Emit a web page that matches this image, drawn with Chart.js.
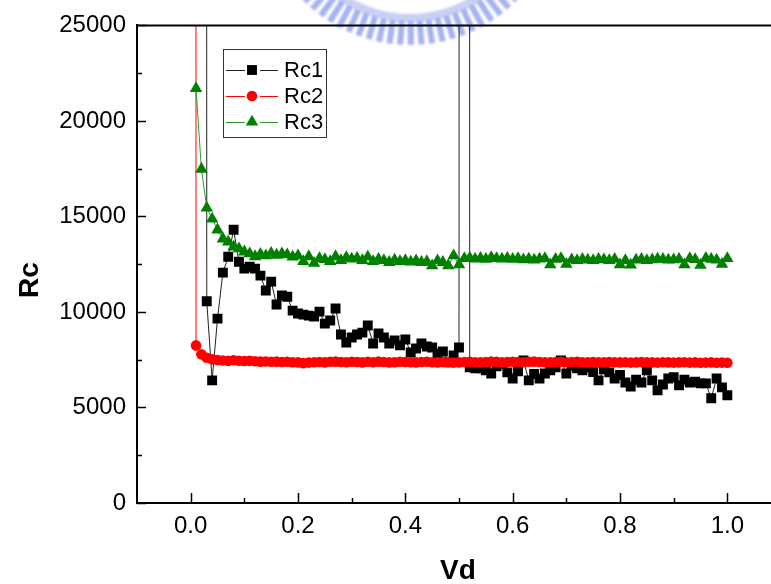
<!DOCTYPE html>
<html>
<head>
<meta charset="utf-8">
<script src="https://cdn.jsdelivr.net/npm/chart.js@4.4.0/dist/chart.umd.min.js"></script>
<style>
  html, body { margin: 0; padding: 0; background: #fff; overflow: hidden; }
  #wrap { position: relative; width: 830px; height: 584px; }
</style>
</head>
<body>
<div id="wrap"><canvas id="chart"></canvas></div>
<script>
// values off the scale (division near Vd = 0 and one glitch at 0.51)
const BIG = 1e6;

const vd = [
  0.00, 0.01, 0.02, 0.03, 0.04, 0.05, 0.06, 0.07, 0.08, 0.09,
  0.10, 0.11, 0.12, 0.13, 0.14, 0.15, 0.16, 0.17, 0.18, 0.19,
  0.20, 0.21, 0.22, 0.23, 0.24, 0.25, 0.26, 0.27, 0.28, 0.29,
  0.30, 0.31, 0.32, 0.33, 0.34, 0.35, 0.36, 0.37, 0.38, 0.39,
  0.40, 0.41, 0.42, 0.43, 0.44, 0.45, 0.46, 0.47, 0.48, 0.49,
  0.50, 0.51, 0.52, 0.53, 0.54, 0.55, 0.56, 0.57, 0.58, 0.59,
  0.60, 0.61, 0.62, 0.63, 0.64, 0.65, 0.66, 0.67, 0.68, 0.69,
  0.70, 0.71, 0.72, 0.73, 0.74, 0.75, 0.76, 0.77, 0.78, 0.79,
  0.80, 0.81, 0.82, 0.83, 0.84, 0.85, 0.86, 0.87, 0.88, 0.89,
  0.90, 0.91, 0.92, 0.93, 0.94, 0.95, 0.96, 0.97, 0.98, 0.99,
  1.00
];

const rc1 = [
  BIG, BIG, BIG, 10560, 6420, 9650, 12060, 12890, 14300, 12630,
  12270, 12370, 12270, 11900, 11120, 11590, 10390, 10860, 10800, 10070,
  9920, 9860, 9810, 9760, 10020, 9390, 9550, 10180, 8820, 8400,
  8660, 8820, 8920, 9290, 8350, 8870, 8660, 8350, 8510, 8250,
  8560, 7880, 8090, 8350, 8190, 8140, 7830, 7930, 7360, 7720,
  8140, BIG, 7100, 7050, 7050, 6950, 6780, 7150, 7280, 6840,
  6520, 6900, 7460, 6420, 6750, 6520, 6780, 6950, 7100, 7460,
  6780, 7200, 7050, 6940, 7100, 6850, 6420, 7000, 6840, 6520,
  6700, 6310, 6100, 6450, 6310, 6940, 6420, 5900, 6200, 6520,
  6580, 6160, 6450, 6310, 6350, 6260, 6260, 5480, 6520, 6050,
  5640
];

const rc2 = [
  BIG, 8250, 7780, 7600, 7520, 7480, 7460, 7440, 7470, 7450,
  7430, 7440, 7420, 7400, 7410, 7390, 7400, 7380, 7390, 7370,
  7360, 7320, 7350, 7370, 7380, 7360, 7390, 7400, 7380, 7370,
  7390, 7380, 7360, 7390, 7370, 7400, 7380, 7360, 7370, 7390,
  7380, 7370, 7360, 7380, 7390, 7370, 7360, 7380, 7370, 7350,
  7360, 7380, 7390, 7370, 7360, 7380, 7400, 7390, 7370, 7380,
  7390, 7380, 7370, 7390, 7400, 7380, 7370, 7360, 7380, 7390,
  7370, 7380, 7390, 7370, 7360, 7380, 7370, 7360, 7380, 7370,
  7360, 7370, 7350, 7360, 7380, 7370, 7360, 7350, 7370, 7360,
  7350, 7360, 7370, 7350, 7360, 7340, 7350, 7360, 7340, 7350,
  7340
];

const rc3 = [
  null, 21700, 17480, 15450, 14870, 14300, 13830, 13670, 13410, 13310,
  13150, 13050, 12900, 13020, 12950, 13080, 12980, 13050, 13000, 12880,
  12950, 12650, 12900, 12550, 12800, 12750, 12650, 12900, 12700, 12850,
  12780, 12820, 12700, 12880, 12650, 12760, 12700, 12600, 12720, 12650,
  12700, 12620, 12680, 12600, 12640, 12420, 12680, 12600, 12420, 12950,
  12480, 12800, 12830, 12780, 12820, 12760, 12850, 12800, 12780, 12820,
  12760, 12800, 12740, 12780, 12720, 12780, 12800, 12480, 12760, 12800,
  12500, 12740, 12700, 12760, 12720, 12700, 12760, 12740, 12700, 12760,
  12480, 12700, 12460, 12720, 12760, 12700, 12740, 12780, 12760, 12720,
  12740, 12760, 12480, 12800, 12750, 12450, 12820, 12760, 12720, 12500,
  12800
];

const seriesNames = ["Rc1", "Rc2", "Rc3"];
const xTicks = [0.0, 0.2, 0.4, 0.6, 0.8, 1.0];
const xMinorTicks = [0.1, 0.3, 0.5, 0.7, 0.9];
const yTicks = [0, 5000, 10000, 15000, 20000, 25000];
const yMinorTicks = [2500, 7500, 12500, 17500, 22500];

const FONT = "'Liberation Sans', Arial, sans-serif";
Chart.defaults.font.family = FONT;
Chart.defaults.color = "#000";

const styles = [
  { color: "#000000", line: "#222222", pointStyle: "rect", radius: 7 },
  { color: "#ff0000", line: "#ff0000", pointStyle: "circle", radius: 5.3 },
  { color: "#008000", line: "#2e9a2e", pointStyle: "triangle", radius: 7.2 }
];

function toPoints(arr) {
  return arr.map((v, i) => ({ x: vd[i], y: v }));
}

// light blue emblem partly visible at the top edge
function drawWatermark(ctx) {
  const cx = 410, cy = -105;
  ctx.save();
  ctx.filter = "blur(0.8px)";
  ctx.fillStyle = "rgba(135, 150, 232, 0.45)";
  ctx.beginPath();
  ctx.arc(cx, cy, 127, 0.16 * Math.PI, 0.84 * Math.PI);
  ctx.arc(cx, cy, 119, 0.84 * Math.PI, 0.16 * Math.PI, true);
  ctx.closePath();
  ctx.fill();
  ctx.fillStyle = "rgba(130, 145, 235, 0.7)";
  for (let a = 0.18 * Math.PI; a <= 0.82 * Math.PI; a += Math.PI / 44) {
    ctx.save();
    ctx.translate(cx, cy);
    ctx.rotate(a);
    ctx.fillRect(126, -3, 24, 6);
    ctx.restore();
  }
  ctx.restore();
}

function drawMarker(ctx, style, x, y, r) {
  ctx.fillStyle = style.color;
  ctx.beginPath();
  if (style.pointStyle === "rect") {
    const s = r * Math.SQRT1_2;
    ctx.rect(x - s, y - s, 2 * s, 2 * s);
  } else if (style.pointStyle === "circle") {
    ctx.arc(x, y, r, 0, Math.PI * 2);
  } else {
    ctx.moveTo(x, y - r);
    ctx.lineTo(x + r * 0.866, y + r * 0.5);
    ctx.lineTo(x - r * 0.866, y + r * 0.5);
    ctx.closePath();
  }
  ctx.fill();
}

const framePlugin = {
  id: "frame",
  beforeDraw(chart) {
    drawWatermark(chart.ctx);
  },
  afterDraw(chart) {
    const { ctx, chartArea: a, scales: { x, y } } = chart;
    ctx.save();
    ctx.strokeStyle = "#000";

    // top border
    ctx.lineWidth = 2;
    ctx.beginPath();
    ctx.moveTo(a.left - 1, a.top);
    ctx.lineTo(a.right + 60, a.top);
    ctx.stroke();

    // inward tick marks
    ctx.lineWidth = 1.5;
    ctx.beginPath();
    xTicks.forEach(v => {
      const px = Math.round(x.getPixelForValue(v)) + 0.5;
      ctx.moveTo(px, a.bottom); ctx.lineTo(px, a.bottom - 10);
    });
    xMinorTicks.forEach(v => {
      const px = Math.round(x.getPixelForValue(v)) + 0.5;
      ctx.moveTo(px, a.bottom); ctx.lineTo(px, a.bottom - 5);
    });
    yTicks.forEach(v => {
      const py = Math.round(y.getPixelForValue(v)) + 0.5;
      ctx.moveTo(a.left, py); ctx.lineTo(a.left + 9, py);
    });
    yMinorTicks.forEach(v => {
      const py = Math.round(y.getPixelForValue(v)) + 0.5;
      ctx.moveTo(a.left, py); ctx.lineTo(a.left + 5, py);
    });
    ctx.stroke();

    // legend box
    const bx = 223, by = 49, bw = 103, bh = 88;
    ctx.lineWidth = 1;
    ctx.strokeStyle = "#333";
    ctx.strokeRect(bx + 0.5, by + 0.5, bw, bh);
    ctx.font = "22px " + FONT;
    ctx.textBaseline = "middle";
    ctx.textAlign = "left";
    seriesNames.forEach((name, i) => {
      const ly = by + 21 + i * 26;
      const st = styles[i];
      ctx.strokeStyle = st.line;
      ctx.lineWidth = 1;
      ctx.beginPath();
      ctx.moveTo(bx + 3, ly + 0.5); ctx.lineTo(bx + 22, ly + 0.5);
      ctx.moveTo(bx + 37, ly + 0.5); ctx.lineTo(bx + 55, ly + 0.5);
      ctx.stroke();
      drawMarker(ctx, st, bx + 29, ly, st.radius);
      ctx.fillStyle = "#000";
      ctx.fillText(name, bx + 61, ly + 1);
    });

    // axis titles
    ctx.fillStyle = "#000";
    ctx.font = "bold 28px " + FONT;
    ctx.textAlign = "center";
    ctx.textBaseline = "middle";
    ctx.fillText("Vd", 458, 571);
    ctx.save();
    ctx.translate(30, 280);
    ctx.rotate(-Math.PI / 2);
    ctx.fillText("Rc", 0, 0);
    ctx.restore();

    ctx.restore();
  }
};

const ctx = document.getElementById("chart").getContext("2d");
new Chart(ctx, {
  type: "line",
  data: {
    datasets: [rc1, rc2, rc3].map((arr, i) => ({
      label: seriesNames[i],
      data: toPoints(arr),
      borderColor: styles[i].line,
      borderWidth: 1,
      backgroundColor: styles[i].color,
      pointBackgroundColor: styles[i].color,
      pointBorderColor: styles[i].color,
      pointBorderWidth: 0,
      pointStyle: styles[i].pointStyle,
      pointRadius: styles[i].radius,
      tension: 0,
      fill: false,
      order: 3 - i
    }))
  },
  options: {
    responsive: true,
    maintainAspectRatio: false,
    animation: false,
    events: [],
    layout: { padding: { left: 0, top: 24, right: 49, bottom: 0 } },
    scales: {
      x: {
        type: "linear",
        min: -0.1,
        max: 1.1,
        afterBuildTicks: s => { s.ticks = xTicks.map(v => ({ value: v })); },
        afterFit: s => { s.height = 81; },
        ticks: {
          padding: 9,
          font: { size: 24 },
          color: "#000",
          maxRotation: 0,
          callback: v => v.toFixed(1)
        },
        grid: { display: false, drawTicks: false },
        border: { display: true, color: "#000", width: 2 }
      },
      y: {
        type: "linear",
        min: 0,
        max: 25000,
        afterBuildTicks: s => { s.ticks = yTicks.map(v => ({ value: v })); },
        afterFit: s => { s.width = 137; },
        ticks: {
          padding: 11,
          font: { size: 24 },
          color: "#000",
          callback: v => String(v)
        },
        grid: { display: false, drawTicks: false },
        border: { display: true, color: "#000", width: 2 }
      }
    },
    plugins: {
      legend: { display: false },
      tooltip: { enabled: false },
      title: { display: false }
    }
  },
  plugins: [framePlugin]
});
</script>
</body>
</html>
